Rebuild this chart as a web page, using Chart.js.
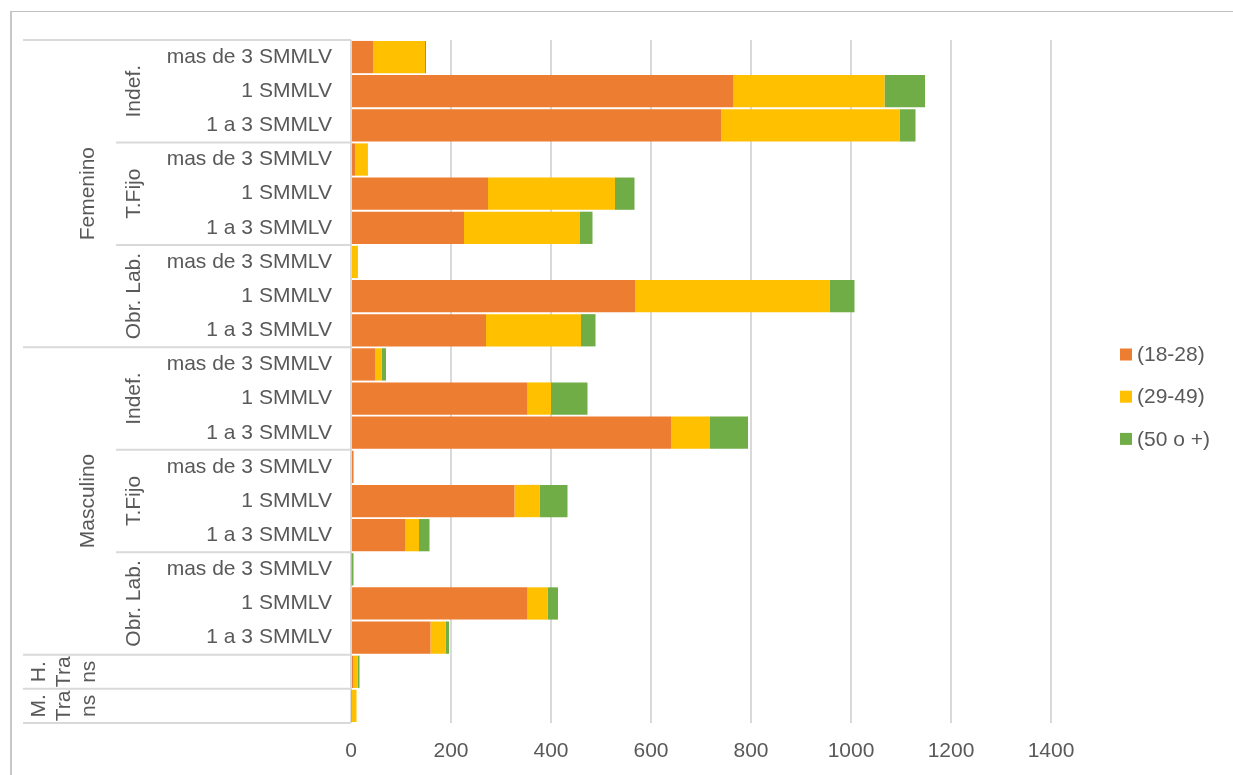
<!DOCTYPE html>
<html>
<head>
<meta charset="utf-8">
<script src="https://cdn.jsdelivr.net/npm/chart.js@4"></script>
<style>
  body { margin: 0; background: #fff; }
  #wrap { position: relative; width: 1233px; height: 775px; }
  #frame { position: absolute; left: 10px; top: 11px; right: 0; bottom: 0;
           border-top: 1px solid #c0c0c0; border-left: 2px solid #c8c8c8; }
  #chart { position: absolute; left: 0; top: 0; }
</style>
</head>
<body>
<div id="wrap">
  <div id="frame"></div>
  <canvas id="chart" width="1233" height="775"></canvas>
</div>
<script>
// categories
const genders = ['Femenino', 'Masculino'];
const contractTypes = ['Indef.', 'T.Fijo', 'Obr. Lab.'];
const salaryLevels = ['mas de 3 SMMLV', '1 SMMLV', '1 a 3 SMMLV'];
const transRows = ['H. Trans', 'M. Trans'];

// series (top row first)
const seriesNames = ['(18-28)', '(29-49)', '(50 o +)'];
const age18to28 = [44, 765, 740, 8, 274, 226, 0, 568, 270, 48, 353, 640, 4, 327, 109, 0, 353, 159, 5, 1];
const age29to49 = [104, 302, 357, 25, 254, 232, 13, 389, 190, 13, 47, 78, 0, 50, 27, 1, 40, 30, 8, 10];
const age50plus = [2, 81, 32, 1, 39, 25, 1, 50, 29, 9, 73, 76, 1, 56, 21, 4, 21, 7, 4, 0];

const xTicks = [0, 200, 400, 600, 800, 1000, 1200, 1400];

const colors = ['#ED7D31', '#FFC000', '#70AD47'];
const textColor = '#595959';
const lineColor = '#d9d9d9';
const fontFamily = '"Liberation Sans", Arial, sans-serif';

// build flat row labels
const labels = [];
genders.forEach(() => {
    contractTypes.forEach(() => {
        salaryLevels.forEach(s => labels.push(s));
    });
});
transRows.forEach(t => labels.push(t));
const innerCount = genders.length * contractTypes.length * salaryLevels.length;

// Excel wraps the narrow Trans labels into short lines
function wrapNarrow(text) {
    const out = [];
    text.split(' ').forEach(w => {
        for (let i = 0; i < w.length; i += 3) out.push(w.slice(i, i + 3));
    });
    return out;
}

// multi-level category labels + separators, and the legend
const groupAxisPlugin = {
    id: 'groupAxis',
    afterDraw(chart) {
        const ctx = chart.ctx;
        const y = chart.scales.y;
        const half = (y.getPixelForValue(1) - y.getPixelForValue(0)) / 2;
        const top = i => y.getPixelForValue(i) - half;
        const right = chart.chartArea.left;
        const outerX = 23, midX = 116;

        ctx.save();
        ctx.strokeStyle = lineColor;
        ctx.lineWidth = 2;
        const hline = (x0, yy) => {
            ctx.beginPath();
            ctx.moveTo(x0, yy);
            ctx.lineTo(right, yy);
            ctx.stroke();
        };

        ctx.fillStyle = textColor;
        ctx.font = '21px ' + fontFamily;
        ctx.textAlign = 'center';
        ctx.textBaseline = 'alphabetic';
        const vtext = (txt, bx, cy) => {
            ctx.save();
            ctx.translate(bx, cy);
            ctx.rotate(-Math.PI / 2);
            ctx.fillText(txt, 0, 0);
            ctx.restore();
        };

        const perGender = contractTypes.length * salaryLevels.length;
        genders.forEach((g, gi) => {
            const g0 = gi * perGender;
            hline(outerX, top(g0));
            vtext(g, 94, (top(g0) + top(g0 + perGender)) / 2);
            contractTypes.forEach((c, ci) => {
                const c0 = g0 + ci * salaryLevels.length;
                if (ci > 0) hline(midX, top(c0));
                vtext(c, 140, (top(c0) + top(c0 + salaryLevels.length)) / 2);
            });
        });
        transRows.forEach((t, ti) => {
            const r = innerCount + ti;
            hline(outerX, top(r));
            const cy = y.getPixelForValue(r);
            wrapNarrow(t).forEach((line, li) => vtext(line, 45 + li * 25, cy));
        });
        hline(outerX, top(labels.length));

        // legend
        ctx.textAlign = 'left';
        ctx.textBaseline = 'middle';
        chart.data.datasets.forEach((ds, i) => {
            const cy = 354.5 + i * 42.2;
            ctx.fillStyle = ds.backgroundColor;
            ctx.fillRect(1120, cy - 6, 12, 12);
            ctx.fillStyle = textColor;
            ctx.fillText(ds.label, 1137, cy + 1);
        });
        ctx.restore();
    }
};

const seriesData = [age18to28, age29to49, age50plus];

new Chart(document.getElementById('chart'), {
    type: 'bar',
    data: {
        labels: labels,
        datasets: seriesNames.map((name, i) => ({
            label: name,
            data: seriesData[i],
            backgroundColor: colors[i],
            borderWidth: 0,
            barPercentage: 1,
            categoryPercentage: 0.945
        }))
    },
    options: {
        indexAxis: 'y',
        responsive: false,
        animation: false,
        layout: { padding: { top: 40, right: 182, bottom: 0, left: 0 } },
        plugins: {
            legend: { display: false },
            tooltip: { enabled: false }
        },
        scales: {
            x: {
                stacked: true,
                min: 0,
                max: 1400,
                afterBuildTicks: scale => { scale.ticks = xTicks.map(v => ({ value: v })); },
                afterFit: scale => { scale.height = 52; },
                grid: { color: lineColor, lineWidth: 2, drawTicks: false },
                border: { display: false },
                ticks: {
                    color: textColor,
                    font: { family: fontFamily, size: 21 },
                    padding: 16,
                    maxRotation: 0,
                    callback: value => String(value)
                }
            },
            y: {
                stacked: true,
                afterFit: scale => { scale.width = 351; },
                grid: { display: false, drawTicks: false },
                border: { display: false },
                ticks: {
                    autoSkip: false,
                    color: textColor,
                    font: { family: fontFamily, size: 21 },
                    padding: 19,
                    callback: function(value, index) {
                        return index < innerCount ? this.getLabelForValue(value) : '';
                    }
                }
            }
        }
    },
    plugins: [groupAxisPlugin]
});
</script>
</body>
</html>
